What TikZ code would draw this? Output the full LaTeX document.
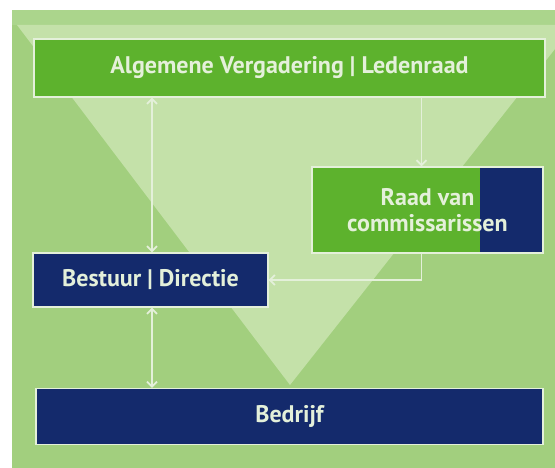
\documentclass[tikz,border=0pt]{standalone}
\usepackage{fontspec}
\setmainfont{PT Sans}
\usetikzlibrary{arrows.meta}
\definecolor{bg}{HTML}{A2CF7E}
\definecolor{band}{HTML}{ABD58C}
\definecolor{funnel}{HTML}{C4E1A9}
\definecolor{leaf}{HTML}{5DB22D}
\definecolor{navy}{HTML}{142A6C}
\definecolor{pale}{HTML}{E4F0DA}
\tikzset{box/.style={draw=pale, line width=1.4pt, text=pale,
        font=\fontsize{24}{26}\selectfont\bfseries, align=center, inner sep=0pt},
    greenbox/.style={box, fill=leaf},
    navybox/.style={box, fill=navy},
    link/.style={draw=pale, line width=1.8pt, -{Straight Barb[length=5pt,width=10pt]}},
    twoway/.style={link, {Straight Barb[length=5pt,width=10pt]}-{Straight Barb[length=5pt,width=10pt]}},
    }
\begin{document}
\begin{tikzpicture}[x=1pt,y=-1pt]
\useasboundingbox (0,0) rectangle (555,468);
\fill[bg] (12,10) rectangle (555,468);
\fill[band] (12,10) rectangle (555,25);
\fill[funnel] (17,25) -- (555,25) -- (555,49) -- (290,385) -- cycle;
\node[greenbox, minimum width=511pt, minimum height=58pt] (vergadering) at (289.5,68) {Algemene Vergadering | Ledenraad};
\node[greenbox, minimum width=231pt, minimum height=86pt,
    path picture={\fill[navy] ([xshift=-63pt]path picture bounding box.north east) rectangle (path picture bounding box.south east);}]
    (raad) at (427.5,210) {Raad van\\commissarissen};
\node[navybox, minimum width=235pt, minimum height=54pt] (bestuur) at (150.5,280) {Bestuur | Directie};
\node[navybox, minimum width=507pt, minimum height=56pt] (bedrijf) at (289.5,416.5) {Bedrijf};
\draw[twoway] ([xshift=1.5pt]bestuur.north |- vergadering.south) -- ([xshift=1.5pt]bestuur.north);
\draw[link] ([xshift=-6pt]raad.north |- vergadering.south) -- ([xshift=-6pt]raad.north);
\draw[link] ([xshift=-6pt]raad.south) |- (bestuur.east);
\draw[twoway] ([xshift=1.5pt]bestuur.south) -- ([xshift=1.5pt]bestuur.south |- bedrijf.north);
\end{tikzpicture}
\end{document}
